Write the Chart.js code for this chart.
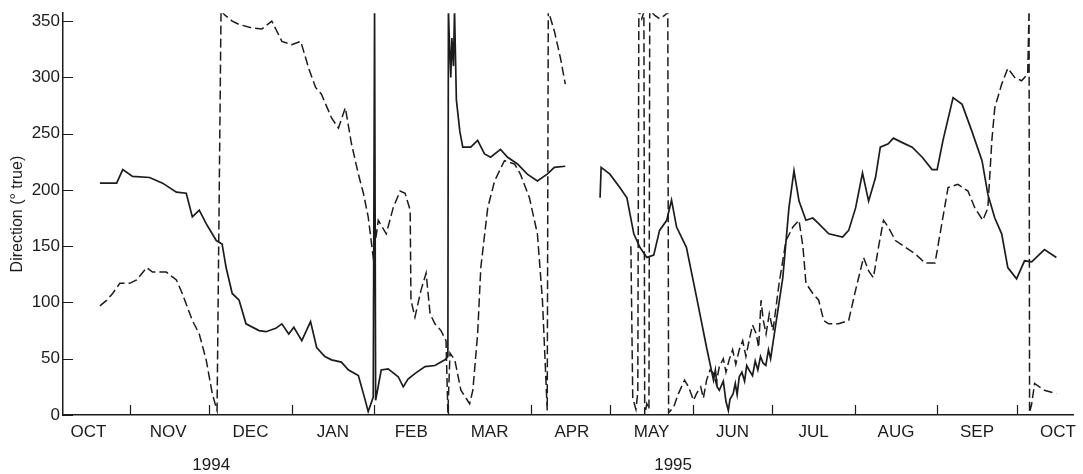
<!DOCTYPE html>
<html>
<head>
<meta charset="utf-8">
<script src="https://cdn.jsdelivr.net/npm/chart.js@4/dist/chart.umd.min.js"></script>
<style>
  html, body { margin: 0; padding: 0; background: #ffffff; }
  #wrap { width: 1083px; height: 474px; position: relative; }
</style>
</head>
<body>
<div id="wrap"><canvas id="c" width="1083" height="474"></canvas></div>
<script>
// ---- Data (days since 1 Oct 1994) ----
const monthLabels = ['OCT','NOV','DEC','JAN','FEB','MAR','APR','MAY','JUN','JUL','AUG','SEP','OCT'];
const monthLabelDays = [15.5, 45.5, 76.5, 107.5, 137, 166.5, 197.5, 227.5, 258, 288.5, 319.5, 350, 380.5];
const monthStartDays = [31, 61, 92, 123, 151, 182, 212, 243, 273, 304, 335, 365];
const yearLabels = ['1994', '1995'];
const yearLabelDays = [61.7, 235.6];
const yTickValues = [0, 50, 100, 150, 200, 250, 300, 350];

const solidDays = [19.8,26.1,28.4,32.1,38.5,43.4,48.6,52.3,54.6,57.2,59.8,63.6,65.8,67.3,69.6,72.2,74.8,79.7,82.3,86.0,88.3,90.9,92.8,95.8,99.1,101.4,104.5,107.0,110.7,113.4,117.1,119.7,120.8,122.7,123.2,123.6,125.7,128.3,132.1,134.0,135.8,138.5,142.2,145.9,149.7,150.8,151.0,151.4,151.9,152.3,152.9,153.3,154.0,155.3,156.4,159.4,162.0,164.6,166.9,170.6,173.3,177.0,180.7,184.5,188.2,190.9,195.0,
  200,
  208.1,208.5,211.8,215.6,218.2,220.8,223.1,225.7,228.3,230.5,233.2,235.0,236.9,240.6,244.4,248.2,250.8,251.5,252.2,253.0,254.5,255.5,256.4,257.0,258.2,259.0,259.7,260.5,261.5,262.5,263.3,264.2,265.5,266.5,267.5,268.5,269.5,270.5,271.5,272.3,273.2,276.9,279.2,281.1,283.0,285.6,288.2,290.4,294.2,299.4,301.7,304.3,306.9,309.2,311.8,313.6,316.6,318.5,321.9,325.6,329.4,333.1,335.0,337.2,341.0,344.4,348.1,351.9,354.1,356.7,359.3,361.6,364.9,367.9,370.6,375.4,379.9];
const solidDir = [206,206,218,212,211,206,198,197,176,182,170,155,152,131,108,102,81,75,74,77,81,72,78,66,83,60,52,49,47,40,35,13,3,16,360,13,40,41,34,25,32,37,43,44,49,52,360,330,300,335,310,360,280,252,238,238,244,232,229,236,229,223,214,208,214,220,221,
  null,
  193,220,214,202,193,161,149,140,142,164,173,191,167,149,105,60,31,40,25,22,30,12,4,14,19,28,18,34,38,30,44,40,35,48,40,52,46,44,58,50,64,122,184,217,190,173,175,170,161,158,164,184,215,190,211,238,241,246,242,238,229,218,218,244,282,276,252,226,196,175,161,131,121,137,136,147,140];

const dashDays = [19.8,22.4,24.6,27.3,31.0,33.6,37.4,39.6,44.8,48.6,50.8,54.6,57.2,59.8,62.1,63.9,65.4,66.5,69.6,72.2,77.0,80.8,84.5,88.3,92.0,95.4,98.4,101.0,103.2,107.0,109.6,112.2,114.5,117.1,119.0,120.8,122.7,124.6,127.6,130.2,132.8,134.7,136.6,136.9,138.4,140.7,142.6,144.1,145.9,148.2,150.1,150.8,151.6,153.4,155.7,159.0,160.2,162.0,163.2,165.8,168.4,172.1,175.9,178.1,181.5,184.5,186.4,187.5,188.2,188.6,189.0,190.9,193.2,195.0,
  200,
  219.7,220.4,221.6,222.3,222.7,223.8,224.6,224.9,225.7,226.5,226.8,228.7,230.5,232.4,233.6,233.9,235.8,237.6,239.9,241.4,243.3,244.4,246.0,247.0,248.2,249.5,250.8,251.8,253.0,254.5,255.5,256.7,258.0,259.2,260.5,261.8,263.0,264.2,265.5,266.9,267.8,268.7,269.5,270.6,271.8,273.2,275.5,278.1,280.7,283.0,284.5,285.6,288.2,290.4,292.3,294.2,297.9,301.7,304.3,307.3,309.2,311.0,312.9,314.8,316.6,319.3,323.0,326.8,330.5,334.2,336.1,339.1,342.8,346.6,349.2,352.2,354.1,355.6,356.7,359.3,361.6,364.2,366.8,369.1,369.6,369.8,370.6,371.7,375.4,379.9];
const dashDir = [97,102,108,117,117,120,131,127,127,120,108,84,72,49,19,4,360,356,350,347,344,343,350,332,329,332,308,291,285,264,255,273,241,214,197,176,140,173,161,184,199,197,182,102,87,111,126,90,81,75,66,2,55,49,22,10,22,72,131,184,208,226,223,214,193,161,102,43,4,360,356,341,317,294,
  null,
  150,15,5,20,360,352,358,0,10,5,360,355,352,355,358,2,7,19,31,25,13,19,25,15,31,40,37,28,43,50,38,49,58,45,58,66,52,66,80,72,60,102,85,72,90,75,117,155,167,173,149,117,108,102,84,81,81,84,111,140,128,122,149,173,167,155,149,143,135,135,161,202,205,199,184,173,184,244,273,294,308,300,297,303,360,2,10,28,22,19];

const INK = '#1c1c1c';
const FONT = '"Liberation Sans", Arial, Helvetica, sans-serif';

const axisMarks = {
  id: 'axisMarks',
  afterDraw(chart) {
    const {ctx, chartArea, scales} = chart;
    const x = scales.x, y = scales.y;
    ctx.save();
    ctx.strokeStyle = INK;
    ctx.lineWidth = 1.2;
    ctx.beginPath();
    monthStartDays.forEach(d => {
      const px = Math.round(x.getPixelForValue(d)) + 0.5;
      ctx.moveTo(px, chartArea.bottom);
      ctx.lineTo(px, chartArea.bottom - 10);
    });
    yTickValues.forEach(v => {
      const py = Math.round(y.getPixelForValue(v)) + 0.5;
      ctx.moveTo(chartArea.left, py);
      ctx.lineTo(chartArea.left + 10, py);
    });
    ctx.stroke();
    ctx.fillStyle = INK;
    ctx.font = '17px ' + FONT;
    ctx.textAlign = 'center';
    ctx.textBaseline = 'middle';
    yearLabels.forEach((t, i) => {
      ctx.fillText(t, x.getPixelForValue(yearLabelDays[i]), 465);
    });
    ctx.restore();
  }
};

const toPts = (xs, ys) => xs.map((d, i) => ({x: d, y: ys[i]}));

new Chart(document.getElementById('c'), {
  type: 'line',
  data: {
    datasets: [
      {
        label: 'solid',
        data: toPts(solidDays, solidDir),
        borderColor: INK,
        borderWidth: 1.7,
        pointRadius: 0,
        tension: 0,
        spanGaps: false,
        fill: false
      },
      {
        label: 'dashed',
        data: toPts(dashDays, dashDir),
        borderColor: INK,
        borderWidth: 1.5,
        borderDash: [9, 4],
        pointRadius: 0,
        tension: 0,
        spanGaps: false,
        fill: false
      }
    ]
  },
  options: {
    responsive: false,
    animation: false,
    events: [],
    layout: { padding: { top: 12, right: 4, left: 0, bottom: 0 } },
    plugins: { legend: { display: false }, tooltip: { enabled: false } },
    scales: {
      x: {
        type: 'linear',
        min: 5.9,
        max: 386.3,
        grid: { display: false, drawTicks: false },
        border: { display: true, color: INK, width: 1.5 },
        afterBuildTicks: (axis) => { axis.ticks = monthLabelDays.map(v => ({ value: v })); },
        afterFit: (axis) => { axis.height = 59; },
        ticks: {
          autoSkip: false,
          maxRotation: 0,
          padding: 7,
          color: INK,
          font: { family: FONT, size: 17 },
          callback: (val, idx) => monthLabels[idx]
        }
      },
      y: {
        min: 0,
        max: 357,
        grid: { display: false, drawTicks: false },
        border: { display: true, color: INK, width: 1.5 },
        afterBuildTicks: (axis) => { axis.ticks = yTickValues.map(v => ({ value: v })); },
        afterFit: (axis) => { axis.width = 63; },
        ticks: {
          padding: 3,
          color: INK,
          font: { family: FONT, size: 17 }
        },
        title: {
          display: true,
          text: 'Direction (° true)',
          color: INK,
          font: { family: FONT, size: 16 },
          padding: { top: 8, bottom: 0 }
        }
      }
    }
  },
  plugins: [axisMarks]
});
</script>
</body>
</html>
